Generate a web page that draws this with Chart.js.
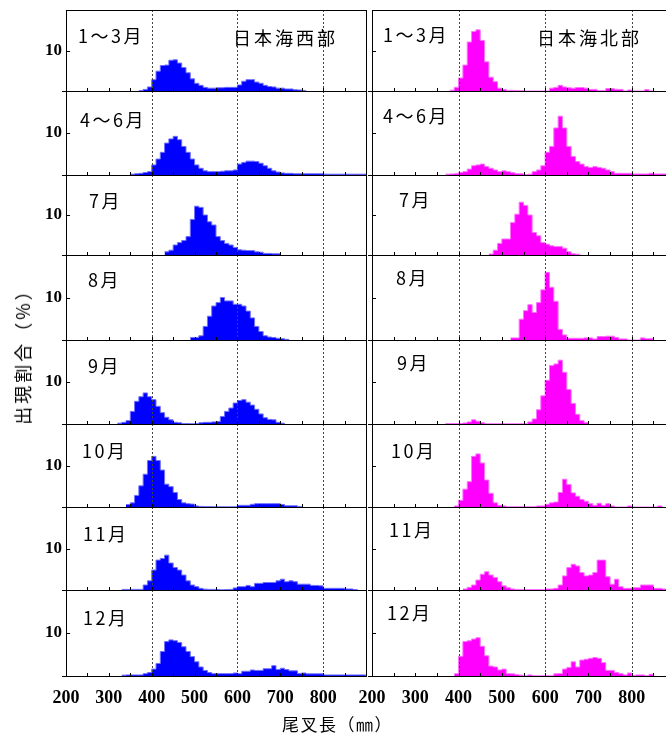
<!DOCTYPE html>
<html>
<head>
<meta charset="utf-8">
<script src="https://cdn.jsdelivr.net/npm/chart.js@4.4.1/dist/chart.umd.min.js"></script>
<style>
    html, body { margin: 0; padding: 0; background: #fff; }
    body { position: relative; width: 666px; height: 733px; overflow: hidden; }
    canvas { position: absolute; }
    .lbl {
        position: absolute; white-space: nowrap; color: #000;
        font-family: "Noto Sans CJK JP", "Noto Sans", sans-serif;
        font-size: 18px; line-height: 18px; letter-spacing: 2.5px;
    }
</style>
</head>
<body>
<script>
// 月ごとの尾叉長組成（10mm階級、値は階級下限からの出現割合 %）
const months = ['1～3月', '4～6月', '7月', '8月', '9月', '10月', '11月', '12月'];
const regions = ['日本海西部', '日本海北部'];
const xTicks = [200, 300, 400, 500, 600, 700, 800];
const yTicks = [10];
const guideLines = [400, 600, 800];
const binWidth = 10;

// 日本海西部
const westStart = [370, 350, 430, 490, 320, 340, 330, 330];
const westJanMar = [0.1, 0.4, 1.0, 2.8, 4.9, 6.3, 6.4, 7.6, 7.7, 6.9, 5.8, 4.5, 3.0, 1.9, 1.4, 0.9, 0.7, 0.7, 0.8, 0.8,
    0.9, 0.9, 0.9, 1.5, 2.4, 2.8, 2.8, 2.2, 1.9, 1.4, 1.1, 1.0, 0.7, 0.7, 0.5, 0.5, 0.3, 0.25, 0.1];
const westAprJun = [0.2, 0.3, 0.4, 0.6, 0.8, 2.4, 3.8, 5.4, 7.6, 8.6, 9.2, 8.4, 6.8, 5.4, 3.8, 2.4, 1.6, 1.0, 0.8, 0.8,
    0.8, 0.9, 1.0, 1.0, 1.2, 2.6, 3.0, 3.3, 3.3, 3.2, 2.8, 2.2, 1.6, 1.0, 0.7, 0.5, 0.4, 0.4, 0.3, 0.3,
    0.3, 0.3, 0.3, 0.3, 0.3, 0.2, 0.2, 0.2, 0.2, 0.2, 0.2, 0.2, 0.2, 0.2, 0.2];
const westJul = [0.8, 1.2, 2.5, 3.1, 3.6, 4.6, 8.9, 12.2, 11.9, 10.0, 8.3, 7.5, 4.6, 3.6, 2.9, 2.5, 1.9, 1.3, 1.2, 1.1,
    1.1, 0.8, 0.7, 0.4, 0.4, 0.3, 0.3];
const westAug = [0.6, 0.6, 1.0, 3.2, 5.6, 8.0, 8.8, 10.0, 9.2, 9.2, 8.4, 8.4, 8.0, 6.8, 5.2, 3.2, 2.0, 1.0, 0.7, 0.6,
    0.4, 0.3, 0.15];
const westSep = [0.2, 0.4, 0.8, 3.0, 5.4, 6.5, 7.4, 6.5, 5.8, 4.2, 2.7, 1.6, 1.0, 0.4, 0.3, 0.1, 0.1, 0.05, 0.1, 0.3,
    0.4, 0.4, 0.5, 0.6, 1.8, 3.0, 3.8, 5.0, 5.6, 5.8, 5.2, 4.5, 3.5, 2.4, 1.5, 1.1, 1.0, 0.4, 0.2];
const westOct = [0.6, 1.0, 2.8, 5.1, 7.9, 11.2, 12.2, 11.2, 8.9, 5.5, 4.9, 3.5, 1.8, 1.0, 0.8, 0.7, 0.25, 0.15, 0.1, 0.1,
    0.05, 0.05, 0.05, 0.05, 0.05, 0.05, 0.4, 0.4, 0.4, 0.65, 0.8, 0.8, 0.8, 0.8, 0.8, 0.8, 0.6, 0.3, 0.3, 0.3, 0.1];
const westNov = [0.15, 0.15, 0.15, 0.15, 0.15, 1.2, 2.2, 4.8, 7.2, 7.6, 8.4, 6.5, 5.4, 4.8, 3.6, 2.2, 1.2, 0.8, 0.4, 0.2,
    0.15, 0.15, 0.1, 0.05, 0.1, 0.15, 0.5, 0.8, 0.8, 1.1, 0.8, 1.6, 1.6, 1.8, 1.8, 1.8, 2.2, 2.6, 2.0, 2.2,
    2.0, 1.4, 1.4, 1.4, 1.1, 1.1, 1.0, 0.4, 0.4, 0.4, 0.4, 0.4, 0.25, 0.25, 0.1];
const westDec = [0.2, 0.25, 0.25, 0.25, 0.25, 0.55, 0.8, 1.6, 2.9, 5.7, 8.0, 8.4, 8.2, 7.8, 6.8, 5.7, 4.5, 3.3, 2.1, 1.3,
    0.8, 0.55, 0.55, 0.55, 0.55, 0.55, 0.7, 0.55, 1.1, 1.1, 1.4, 1.3, 1.3, 1.7, 1.7, 2.4, 1.5, 1.8, 1.5, 1.2,
    1.2, 0.6, 0.7, 0.5, 0.5, 0.5, 0.5, 0.25, 0.25, 0.25, 0.25, 0.25, 0.25, 0.25, 0.25, 0.25, 0.25];

// 日本海北部
const northStart = [380, 370, 470, 520, 370, 390, 410, 390];
const northJanMar = [0.2, 0.9, 3.2, 6.4, 12.1, 14.7, 15.1, 12.5, 7.2, 3.4, 2.3, 0.7, 0.4, 0.15, 0.15, 0.1, 0.05, 0, 0, 0,
    0, 0, 0, 0.7, 0.85, 1.4, 1.0, 0.8, 0.7, 0.85, 0.85, 0.7, 0.4, 0.4, 0.1, 0.1, 0.6, 0.6, 0.4, 0.4,
    0, 0.25, 0, 0, 0, 0.35, 0];
const northAprJun = [0.2, 0.25, 0.3, 0.6, 0.8, 1.4, 2.2, 2.4, 2.6, 2.0, 1.6, 1.2, 0.8, 1.0, 0.8, 0.55, 0.3, 0.3, 0.1, 0.2,
    0.8, 1.2, 2.2, 5.4, 6.8, 11.2, 14.0, 11.2, 6.8, 4.4, 3.2, 2.6, 2.0, 1.8, 2.0, 1.8, 1.6, 1.2, 0.8, 0.4,
    0.4, 0.4, 0.4, 0.25, 0.25, 0.25, 0.25, 0.4, 0.25, 0.25, 0.25];
const northJul = [0.25, 1.2, 2.9, 4.0, 4.0, 8.1, 10.2, 13.2, 12.4, 10.0, 5.6, 4.8, 3.1, 2.7, 2.3, 2.1, 2.1, 1.7, 0.8, 0.3,
    0.2];
const northAug = [0.5, 0.5, 4.9, 6.9, 8.3, 6.5, 8.8, 11.8, 15.9, 12.4, 9.1, 2.5, 1.2, 0.4, 0.4, 0.4, 0.4, 0.5, 0.5, 0.25,
    0.8, 0.8, 0.9, 0.9, 0.6, 0.25, 0.25, 0, 0, 0, 0.5, 0.3, 0.3];
const northSep = [0.1, 0.1, 0.1, 0.15, 0.25, 0.5, 1.0, 0.65, 0.3, 0.05, 0.05, 0.05, 0.05, 0.05, 0.05, 0.05, 0.05, 0.05, 0.05, 0.5,
    1.2, 3.4, 6.7, 10.4, 13.9, 14.3, 15.2, 12.3, 8.2, 4.9, 2.3, 0.8, 0.3];
const northOct = [0.25, 1.6, 4.3, 6.1, 12.2, 12.8, 10.6, 6.5, 3.3, 1.0, 0.4, 0.25, 0.05, 0.05, 0.05, 0.05, 0.05, 0.05, 0.05, 0.25,
    0.25, 0.65, 1.0, 1.2, 3.5, 6.7, 5.4, 3.4, 2.6, 1.8, 1.4, 0.8, 0.4, 0.9, 0.4, 0.8, 0.25, 0, 0, 0,
    0.25, 0, 0, 0, 0, 0, 0, 0.25];
const northNov = [0.25, 0.65, 1.2, 2.4, 3.8, 4.4, 3.6, 3.0, 2.0, 1.0, 0.55, 0.25, 0.1, 0.1, 0.1, 0.1, 0.1, 0.1, 0.1, 0.25,
    0.25, 0.4, 1.2, 3.4, 5.4, 6.2, 5.8, 4.2, 3.4, 3.6, 4.2, 7.2, 7.2, 3.2, 1.4, 2.6, 0.8, 0.4, 0.4, 0.55,
    0.55, 1.2, 1.2, 1.2, 0.4, 0.4, 0.25];
const northDec = [0.55, 4.6, 8.0, 8.2, 8.6, 8.9, 6.9, 4.7, 2.3, 2.1, 1.4, 1.6, 0.55, 0.5, 0.3, 0.2, 0.05, 0.25, 0.05, 0.05,
    0.05, 0.05, 0.05, 0.5, 0.55, 1.6, 2.0, 3.3, 2.1, 3.7, 3.9, 4.1, 4.3, 4.1, 3.1, 1.3, 1.3, 0.8, 0.55, 0.25,
    0.7, 0.15, 0.25, 0.25, 0.05, 0.4];

const westSeries = [westJanMar, westAprJun, westJul, westAug, westSep, westOct, westNov, westDec];
const northSeries = [northJanMar, northAprJun, northJul, northAug, northSep, northOct, northNov, northDec];

// レイアウト
const rowEdges = [10, 91, 175, 255, 340, 424, 507, 590, 676];
const columns = [
    {
        series: westSeries, start: westStart, color: '#0000ff', edge: '#7070ff',
        canvasLeft: 0, axisW: 66, plotW: 300, showY: true,
        labelX: [78, 80, 89, 88, 88, 82, 83, 83],
        labelY: [26, 110, 191, 270, 356, 441, 524, 608],
        region: { x: 233, y: 28 }
    },
    {
        series: northSeries, start: northStart, color: '#ff00ff', edge: '#ff70ff',
        canvasLeft: 340, axisW: 32, plotW: 303, showY: false,
        labelX: [383, 383, 399, 396, 397, 391, 389, 387],
        labelY: [25, 106, 190, 268, 353, 441, 520, 603],
        region: { x: 537, y: 28 }
    }
];

const serif = '"Liberation Serif", "Times New Roman", serif';

const panelFrame = {
    id: 'panelFrame',
    afterDatasetsDraw(chart) {
        const { ctx, chartArea: a, scales: { x, y } } = chart;
        ctx.save();
        ctx.lineWidth = 1;
        ctx.strokeStyle = '#444';
        ctx.setLineDash([2, 2]);
        guideLines.forEach(v => {
            const px = Math.round(x.getPixelForValue(v)) + 0.5;
            ctx.beginPath();
            ctx.moveTo(px, a.top);
            ctx.lineTo(px, a.bottom);
            ctx.stroke();
        });
        ctx.setLineDash([]);
        ctx.strokeStyle = '#000';
        ctx.beginPath();
        for (let v = 250; v < 900; v += 50) {
            const px = Math.round(x.getPixelForValue(v)) + 0.5;
            ctx.moveTo(px, a.bottom);
            ctx.lineTo(px, a.bottom - 3);
        }
        yTicks.forEach(v => {
            const py = Math.round(y.getPixelForValue(v)) + 0.5;
            ctx.moveTo(a.left, py);
            ctx.lineTo(a.left + 4, py);
        });
        ctx.moveTo(a.left - 4, Math.round(a.bottom) + 0.5);
        ctx.lineTo(a.left, Math.round(a.bottom) + 0.5);
        ctx.stroke();
        ctx.strokeRect(Math.round(a.left) + 0.5, Math.round(a.top) + 0.5,
            Math.round(a.right - a.left), Math.round(a.bottom - a.top));
        ctx.restore();
    }
};

// 階級下限の点を並べ、最後に階級上限で0に戻す
function toSteps(start, vals) {
    const pts = vals.map((v, i) => ({ x: start + i * binWidth, y: v }));
    pts.push({ x: start + vals.length * binWidth, y: 0 });
    return pts;
}

function addLabel(text, left, top, extra) {
    const d = document.createElement('div');
    d.className = 'lbl';
    d.textContent = text;
    d.style.left = left + 'px';
    d.style.top = top + 'px';
    if (extra) Object.assign(d.style, extra);
    document.body.appendChild(d);
    return d;
}

function makePanel(col, row) {
    const top = rowEdges[row];
    const h = rowEdges[row + 1] - top;
    const last = row === months.length - 1;
    const W = col.axisW + col.plotW + 1;
    const H = h + (last ? 45 : 1);
    const cv = document.createElement('canvas');
    cv.width = W;
    cv.height = H;
    cv.style.left = col.canvasLeft + 'px';
    cv.style.top = top + 'px';
    cv.style.width = W + 'px';
    cv.style.height = H + 'px';
    document.body.appendChild(cv);

    new Chart(cv, {
        type: 'line',
        data: {
            datasets: [{
                data: toSteps(col.start[row], col.series[row]),
                stepped: 'before',
                fill: 'origin',
                backgroundColor: col.color,
                borderColor: col.edge,
                borderWidth: 1,
                pointRadius: 0
            }]
        },
        options: {
            responsive: false,
            animation: false,
            events: [],
            layout: { padding: { left: 0, top: 0, right: 1, bottom: last ? 0 : 1 } },
            plugins: { legend: { display: false }, tooltip: { enabled: false } },
            scales: {
                x: {
                    type: 'linear', min: 200, max: 900, display: last,
                    afterBuildTicks: s => { s.ticks = xTicks.map(v => ({ value: v })); },
                    afterFit: s => { s.height = last ? 45 : 0; s.paddingLeft = 0; s.paddingRight = 0; },
                    grid: { display: false, drawTicks: false },
                    border: { display: false },
                    ticks: {
                        autoSkip: false, maxRotation: 0, padding: 12, color: '#000',
                        font: { family: serif, size: 18, weight: 'bold' }
                    }
                },
                y: {
                    min: 0, max: 20,
                    afterBuildTicks: s => { s.ticks = yTicks.map(v => ({ value: v })); },
                    afterFit: s => { s.width = col.axisW; s.paddingTop = 0; s.paddingBottom = 0; },
                    grid: { display: false, drawTicks: false },
                    border: { display: false },
                    ticks: {
                        padding: 4, color: '#000',
                        font: { family: serif, size: 17, weight: 'bold' },
                        callback: v => col.showY ? String(v) : ''
                    }
                }
            }
        },
        plugins: [panelFrame]
    });

    addLabel(months[row], col.labelX[row], col.labelY[row]);
}

columns.forEach((col, c) => {
    months.forEach((m, r) => makePanel(col, r));
    addLabel(regions[c], col.region.x, col.region.y, { letterSpacing: '3px' });
});

addLabel('出現割合（%）', 22, 352, {
    transform: 'translate(-50%, -50%) rotate(-90deg)', letterSpacing: '3px'
});
addLabel('尾叉長（㎜）', 282, 715, { fontSize: '17px', lineHeight: '17px', letterSpacing: '1.5px' });
</script>
</body>
</html>
